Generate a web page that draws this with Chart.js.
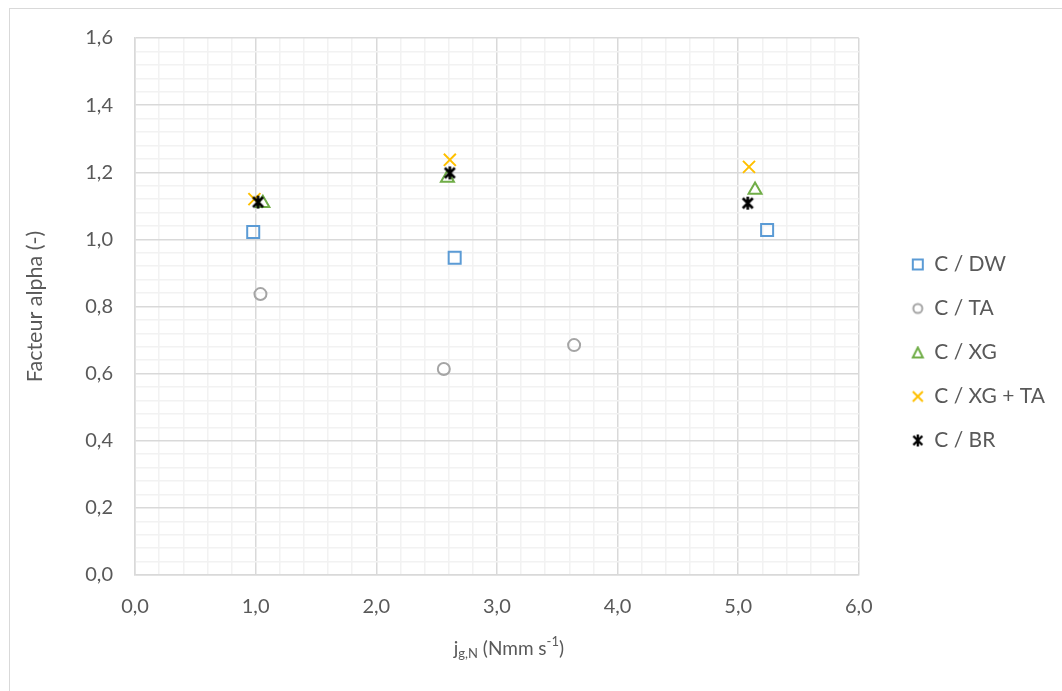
<!DOCTYPE html>
<html>
<head>
<meta charset="utf-8">
<script src="https://cdn.jsdelivr.net/npm/chart.js@4"></script>
<style>
  body { margin: 0; background: #fff; overflow: hidden; }
  #frame { position: absolute; left: 9px; top: 8px; width: 1100px; height: 720px; border: 1px solid #d9d9d9; }
  #wrap { position: absolute; left: 0; top: 0; width: 1062px; height: 691px; }
</style>
</head>
<body>
<div id="frame"></div>
<div id="wrap"><canvas id="alphaChart" width="1062" height="691"></canvas></div>
<script>
// x = j_g,N (Nmm s-1), y = facteur alpha
const seriesNames = ['C / DW', 'C / TA', 'C / XG', 'C / XG + TA', 'C / BR'];
const dwX = [0.98, 2.65, 5.24];
const dwY = [1.022, 0.945, 1.028];
const taX = [1.04, 2.56, 3.64];
const taY = [0.837, 0.614, 0.685];
const xgX = [1.06, 2.59, 5.14];
const xgY = [1.108, 1.183, 1.147];
const xgtaX = [0.99, 2.61, 5.09];
const xgtaY = [1.120, 1.237, 1.216];
const brX = [1.02, 2.61, 5.08];
const brY = [1.111, 1.198, 1.108];

const pts = (xs, ys) => xs.map((x, i) => ({ x: x, y: ys[i] }));

// small marker images (legend + Excel-like asterisk)
function icon(size, draw) {
    const cv = document.createElement('canvas');
    cv.width = size; cv.height = size;
    const g = cv.getContext('2d');
    g.lineWidth = 2;
    draw(g, size);
    return cv;
}
const star = icon(15, (g) => {
    g.strokeStyle = '#000';
    g.lineWidth = 2.6;
    g.beginPath();
    g.moveTo(2.5, 2.5); g.lineTo(12.5, 12.5);
    g.moveTo(12.5, 2.5); g.lineTo(2.5, 12.5);
    g.moveTo(7.5, 1); g.lineTo(7.5, 14);
    g.stroke();
});
const legendIcons = [
    icon(14, g => { g.strokeStyle = '#5b9bd5'; g.strokeRect(2, 2, 10, 10); }),
    icon(14, g => { g.strokeStyle = '#a5a5a5'; g.beginPath(); g.arc(7, 7, 4.5, 0, Math.PI * 2); g.stroke(); }),
    icon(14, g => { g.strokeStyle = '#70ad47'; g.beginPath(); g.moveTo(7, 2); g.lineTo(12, 12); g.lineTo(2, 12); g.closePath(); g.stroke(); }),
    icon(14, g => { g.strokeStyle = '#ffc000'; g.beginPath(); g.moveTo(2, 2); g.lineTo(12, 12); g.moveTo(12, 2); g.lineTo(2, 12); g.stroke(); }),
    icon(14, g => {
        g.strokeStyle = '#000'; g.lineWidth = 2.4; g.beginPath();
        g.moveTo(2.5, 2.5); g.lineTo(11.5, 11.5); g.moveTo(11.5, 2.5); g.lineTo(2.5, 11.5);
        g.moveTo(7, 1); g.lineTo(7, 13); g.stroke();
    })
];

const FONT = 'Lato';
const TXT = '#595959';
const fmt = v => v.toFixed(1).replace('.', ',');
const isMajor = (v, step) => Math.abs(v / step - Math.round(v / step)) < 1e-6;

// x title with subscript / superscript
const xTitle = {
    id: 'xTitle',
    afterDraw(chart) {
        const c = chart.ctx, a = chart.chartArea;
        const y = a.bottom + 74;
        const parts = [
            ['j', 19, 0], ['g,N', 13, 5], [' (Nmm s', 19, 0], ['-1', 13, -7], [')', 19, 0]
        ];
        c.save();
        c.fillStyle = TXT;
        c.textBaseline = 'middle';
        c.textAlign = 'left';
        let w = 0;
        parts.forEach(p => { c.font = p[1] + 'px ' + FONT; w += c.measureText(p[0]).width; });
        let x = (a.left + a.right) / 2 + 12 - w / 2;
        parts.forEach(p => {
            c.font = p[1] + 'px ' + FONT;
            c.fillText(p[0], x, y + p[2]);
            x += c.measureText(p[0]).width;
        });
        c.restore();
    }
};

// move the legend a bit right / up inside the space it was given
const legendShift = {
    id: 'legendShift',
    afterLayout(chart) {
        const lg = chart.legend;
        lg.left += 30; lg.right += 30;
        lg.top -= 12; lg.bottom -= 12;
    }
};

const ctx = document.getElementById('alphaChart').getContext('2d');

const alphaChart = new Chart(ctx, {
    type: 'scatter',
    data: {
        datasets: [{
            label: seriesNames[0],
            data: pts(dwX, dwY),
            pointStyle: 'rect',
            pointRadius: 8.5,
            borderColor: '#5b9bd5',
            backgroundColor: 'rgba(255,255,255,0)',
            borderWidth: 2,
            order: 5
        }, {
            label: seriesNames[1],
            data: pts(taX, taY),
            pointStyle: 'circle',
            pointRadius: 6,
            borderColor: '#a5a5a5',
            backgroundColor: 'rgba(255,255,255,0)',
            borderWidth: 2,
            order: 4
        }, {
            label: seriesNames[2],
            data: pts(xgX, xgY),
            pointStyle: 'triangle',
            pointRadius: 7.5,
            borderColor: '#70ad47',
            backgroundColor: 'rgba(255,255,255,0)',
            borderWidth: 2,
            order: 3
        }, {
            label: seriesNames[3],
            data: pts(xgtaX, xgtaY),
            pointStyle: 'crossRot',
            pointRadius: 8.5,
            borderColor: '#ffc000',
            backgroundColor: 'rgba(255,255,255,0)',
            borderWidth: 2,
            order: 2
        }, {
            label: seriesNames[4],
            data: pts(brX, brY),
            pointStyle: star,
            pointRadius: 7,
            borderColor: '#000',
            backgroundColor: '#000',
            borderWidth: 2,
            order: 1
        }]
    },
    options: {
        responsive: false,
        animation: false,
        layout: {
            padding: { left: 14, right: 37, top: 38, bottom: 0 }
        },
        plugins: {
            tooltip: { enabled: false },
            legend: {
                display: true,
                position: 'right',
                labels: {
                    color: TXT,
                    usePointStyle: true,
                    boxWidth: 12,
                    boxHeight: 12,
                    padding: 23,
                    font: { family: FONT, size: 21 },
                    sort: (a, b) => a.datasetIndex - b.datasetIndex,
                    generateLabels: chart => {
                        const items = Chart.defaults.plugins.legend.labels.generateLabels(chart);
                        items.forEach(it => { it.pointStyle = legendIcons[it.datasetIndex]; });
                        return items;
                    }
                }
            }
        },
        scales: {
            x: {
                type: 'linear',
                min: 0,
                max: 6,
                afterFit: s => { s.height = 116; },
                ticks: {
                    stepSize: 0.2,
                    autoSkip: false,
                    maxRotation: 0,
                    padding: 20,
                    color: TXT,
                    font: { family: FONT, size: 20 },
                    callback: v => isMajor(v, 1) ? fmt(v) : ''
                },
                grid: {
                    drawTicks: false,
                    color: c => isMajor(c.tick.value, 1) ? '#d9d9d9' : '#f2f2f2',
                    lineWidth: 1.5
                },
                border: { color: '#d9d9d9', width: 1.5 }
            },
            y: {
                type: 'linear',
                min: 0,
                max: 1.6,
                afterFit: s => { s.width = 121; },
                ticks: {
                    stepSize: 0.04,
                    autoSkip: false,
                    padding: 22,
                    color: TXT,
                    font: { family: FONT, size: 20 },
                    callback: v => isMajor(v, 0.2) ? fmt(v) : ''
                },
                grid: {
                    drawTicks: false,
                    color: c => isMajor(c.tick.value, 0.2) ? '#d9d9d9' : '#f2f2f2',
                    lineWidth: 1.5
                },
                border: { color: '#d9d9d9', width: 1.5 },
                title: {
                    display: true,
                    text: 'Facteur alpha (-)',
                    color: TXT,
                    padding: { top: 8, bottom: 0 },
                    font: { family: FONT, size: 21.5 }
                }
            }
        }
    },
    plugins: [xTitle, legendShift]
});
</script>
</body>
</html>
